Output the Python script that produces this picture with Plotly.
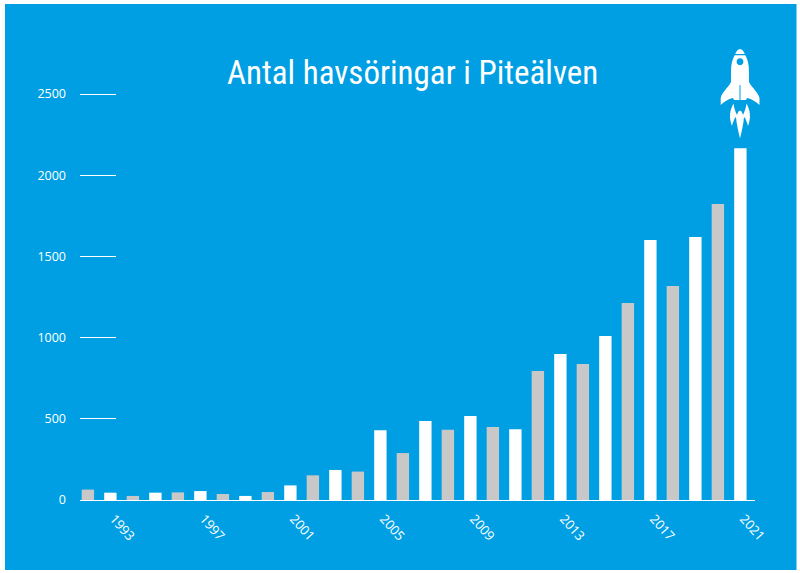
import plotly.graph_objects as go

years = list(range(1992, 2022))
counts = [64, 45, 25, 45, 47, 55, 37, 25, 49, 90, 152, 185, 175, 429, 289, 486, 433, 517,
          449, 435, 794, 899, 837, 1010, 1213, 1601, 1318, 1619, 1823, 2167]
x_ticks = [1993, 1997, 2001, 2005, 2009, 2013, 2017, 2021]
y_ticks = [0, 500, 1000, 1500, 2000, 2500]
title_text = "Antal havsöringar i Piteälven"

BLUE = "#009FE3"
GREY = "#C8C8C8"
WHITE = "#FFFFFF"
L, R, T, B = 80, 755, 90, 500
Y_MAX = 2525
X_SHIFT = 0.15   # bars sit slightly left of the slot centres in the original


def X(px):
    return (px - L) / (R - L)


def Y(py):
    return (B - py) / (B - T)


def path(cmds):
    out = []
    for c in cmds:
        if c == "Z":
            out.append("Z")
        else:
            op, *pts = c
            out.append(op + " ".join(f"{X(pts[i]):.5f},{Y(pts[i + 1]):.5f}" for i in range(0, len(pts), 2)))
    return " ".join(out)


def deco(cmds, color):
    return dict(type="path", xref="paper", yref="paper", path=path(cmds),
                fillcolor=color, line=dict(width=0), layer="above")


rocket_nose = [("M", 735.2, 54), ("C", 736.2, 51.5, 738, 49, 740, 49), ("C", 742, 49, 743.8, 51.5, 744.8, 54), "Z"]
rocket_body = [("M", 734.6, 55.2), ("L", 745.4, 55.2), ("C", 748, 60, 749, 65, 749, 72), ("L", 749, 82),
               ("C", 752, 88, 758, 92, 759.5, 98), ("L", 759.5, 105), ("C", 756, 102, 752, 99, 747, 98),
               ("L", 746, 100), ("L", 734, 100), ("L", 733, 98), ("C", 728, 99, 724, 102, 720.7, 105),
               ("L", 720.7, 98), ("C", 722, 92, 728, 88, 731, 82), ("L", 731, 72), ("C", 731, 65, 732, 60, 734.6, 55.2), "Z"]
rocket_window = [("M", 736.6, 61.7), ("C", 736.6, 57.2, 743.4, 57.2, 743.4, 61.7),
                 ("C", 743.4, 66.2, 736.6, 66.2, 736.6, 61.7), "Z"]
rocket_seam = [("M", 739.5, 85), ("L", 740.5, 85), ("L", 740.5, 100), ("L", 739.5, 100), "Z"]
rocket_flame = [("M", 733.5, 103.5), ("C", 730, 110, 728.5, 117, 732, 126), ("C", 733, 122, 734.5, 118, 736, 117),
                ("C", 736.5, 124, 738.5, 132, 740, 138.5), ("C", 741.5, 132, 743.5, 124, 744, 117),
                ("C", 745.5, 118, 747, 122, 748, 126), ("C", 751.5, 117, 750, 110, 746.5, 103.5),
                ("C", 746, 108, 744.5, 112, 743, 115), ("C", 742, 112, 741, 110, 740, 111),
                ("C", 739, 110, 738, 112, 737, 115), ("C", 735.5, 112, 734, 108, 733.5, 103.5), "Z"]

shapes = [
    dict(type="rect", xref="paper", yref="paper", x0=X(5), x1=X(796.5), y0=Y(570), y1=Y(4),
         fillcolor=BLUE, line=dict(width=0), layer="below"),
    deco(rocket_nose, WHITE),
    deco(rocket_body, WHITE),
    deco(rocket_window, BLUE),
    deco(rocket_seam, BLUE),
    deco(rocket_flame, WHITE),
]

fig = go.Figure(go.Bar(
    x=years, y=counts, width=0.55,
    marker=dict(color=[WHITE if yr % 2 else GREY for yr in years], line=dict(width=0)),
    hoverinfo="x+y",
))

fig.update_layout(
    width=800, height=573,
    margin=dict(l=L, r=800 - R, t=T, b=573 - B, autoexpand=False),
    paper_bgcolor=WHITE, plot_bgcolor="rgba(0,0,0,0)",
    showlegend=False, shapes=shapes,
    font=dict(family="Open Sans", color=WHITE, size=12.5),
    annotations=[dict(text=title_text, xref="paper", yref="paper", x=X(412.5), y=Y(73),
                      xanchor="center", yanchor="middle", showarrow=False,
                      font=dict(family="'Roboto Condensed', 'DejaVu Sans Condensed', 'Noto Sans', sans-serif",
                                size=33, color=WHITE))],
    xaxis=dict(range=[1991.5 + X_SHIFT, 2021.5 + X_SHIFT], tickmode="array",
               tickvals=[t + X_SHIFT for t in x_ticks], ticktext=[str(t) for t in x_ticks],
               tickangle=48, ticks="", showgrid=False, zeroline=False, ticklabelstandoff=5,
               showline=True, linecolor=WHITE, linewidth=1, tickfont=dict(size=13)),
    yaxis=dict(range=[0, Y_MAX], tickmode="array", tickvals=y_ticks, ticktext=[str(t) for t in y_ticks],
               ticks="inside", ticklen=36, tickwidth=1, tickcolor=WHITE, ticklabelstandoff=13,
               showgrid=False, zeroline=False, showline=False),
)

fig.write_html("out.html", config=dict(displayModeBar=False), post_script="document.body.style.margin='0';")
